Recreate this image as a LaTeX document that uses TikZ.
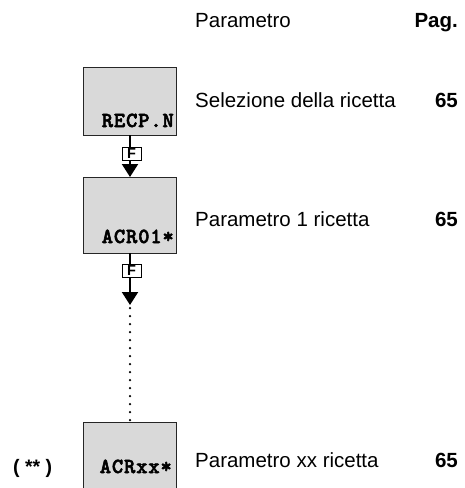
\documentclass[tikz,border=0pt]{standalone}
\usepackage{fontspec}
\setmainfont{Liberation Sans}
\newfontfamily\boxfont{lmmonolt10-bold.otf}[LetterSpace=4,FakeBold=2.5]
\usetikzlibrary{arrows.meta}
\definecolor{boxgray}{HTML}{D9D9D9}
\tikzset{
  menubox/.style={draw=black!85, line width=1pt, fill=boxgray},
  boxlabel/.style={anchor=base east, inner sep=0pt, font=\boxfont\fontsize{21.5}{22}\selectfont},
  txt/.style={anchor=base west, inner sep=0pt, font=\fontsize{20.5}{22}\selectfont},
  pg/.style={anchor=base east, inner sep=0pt, font=\bfseries\fontsize{20.5}{22}\selectfont},
  flow/.style={line width=2pt, -{Triangle[length=13pt,width=16pt]}},
  fkey/.style={draw=black, line width=1pt, fill=white, inner sep=0pt, minimum width=19pt, minimum height=13pt, font=\bfseries\fontsize{14.5}{14}\selectfont},
  dots/.style={line width=2.5pt, line cap=round, dash pattern=on 0pt off 8pt}
}
\begin{document}
\begin{tikzpicture}[x=1pt,y=-1pt]
\useasboundingbox (0,0) rectangle (464,488);
% boxes
\path[menubox] (83,67) rectangle (176,135);
\path[menubox] (83,177) rectangle (176,253);
\path[menubox] (83,422) rectangle (176,490);
\coordinate (b1s) at (130,135);
\coordinate (b2n) at (130,177);
\coordinate (b2s) at (130,253);
\coordinate (c1) at (130,305);
\coordinate (b3n) at (130,422);
\node[boxlabel] (l1) at (174,127) {RECP.N};
\node[boxlabel] (l2) at (174,243) {ACR01*};
\node[boxlabel] (l3) at (172,473) {ACRxx*};
% connectors
\draw[flow] (b1s) -- (b2n);
\draw[flow] (b2s) -- (c1);
\draw[dots] ([yshift=5pt]c1) -- ([yshift=-3pt]b3n);
\node[fkey] (f1) at (131.5,153.5) {F};
\node[fkey] (f2) at (131.5,271) {F};
% texts
\node[txt] (h1) at (195,27) {Parametro};
\node[pg] (h2) at (458,27) {Pag.};
\node[txt] (t1) at (195,107) {Selezione della ricetta};
\node[pg] (p1) at (458,107) {65};
\node[txt] (t2) at (195,226) {Parametro 1 ricetta};
\node[pg] (p2) at (458,226) {65};
\node[txt] (t3) at (195,467) {Parametro xx ricetta};
\node[pg] (p3) at (458,467) {65};
\node[anchor=base west, inner sep=0pt, font=\bfseries\fontsize{19.5}{20}\selectfont] (n3) at (13,473) {( ** )};
\end{tikzpicture}
\end{document}
